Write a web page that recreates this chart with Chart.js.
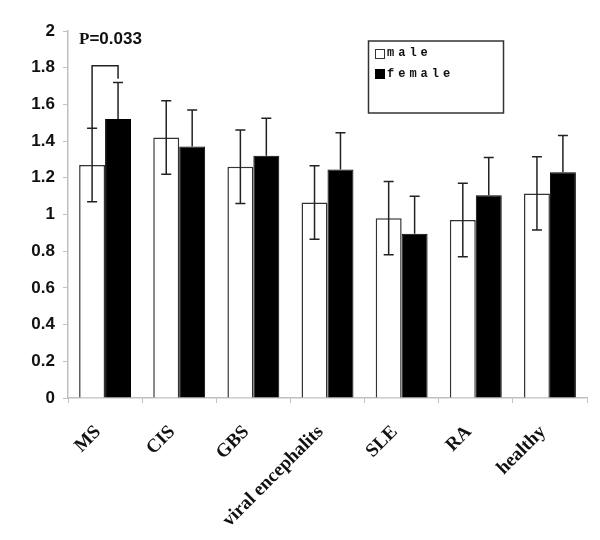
<!DOCTYPE html>
<html>
<head>
<meta charset="utf-8">
<script src="https://cdn.jsdelivr.net/npm/chart.js@4/dist/chart.umd.min.js"></script>
<style>
	html, body { margin: 0; padding: 0; background: #fff; }
	canvas { display: block; }
</style>
</head>
<body>
<canvas id="chart" width="600" height="540"></canvas>
<script>
const categories = ['MS', 'CIS', 'GBS', 'viral encephalits', 'SLE', 'RA', 'healthy'];
const maleValues = [1.27, 1.42, 1.26, 1.065, 0.98, 0.97, 1.115];
const femaleValues = [1.52, 1.37, 1.32, 1.245, 0.895, 1.105, 1.23];
const maleSD = [0.2, 0.2, 0.2, 0.2, 0.2, 0.2, 0.2];
const femaleSD = [0.2, 0.2, 0.205, 0.2, 0.205, 0.205, 0.2];
const yTicks = [0, 0.2, 0.4, 0.6, 0.8, 1, 1.2, 1.4, 1.6, 1.8, 2];
const pLabel = 'P=0.033';
const bracketTop = 1.81;
const bracketRightEnd = 1.74;

const axisGray = '#c0c0c0';

// error bars, significance bracket, legend box
const extras = {
	id: 'extras',
	afterDatasetsDraw(chart) {
		const ctx = chart.ctx;
		const y = chart.scales.y;
		const male = chart.getDatasetMeta(0).data;
		const female = chart.getDatasetMeta(1).data;
		const cap = 5;
		ctx.save();
		ctx.lineWidth = 1.5;
		ctx.strokeStyle = '#222';
		const drawErr = (bars, vals, sds, both) => {
			bars.forEach((b, i) => {
				const hi = y.getPixelForValue(vals[i] + sds[i]);
				const lo = y.getPixelForValue(both ? vals[i] - sds[i] : vals[i]);
				ctx.beginPath();
				ctx.moveTo(b.x, hi); ctx.lineTo(b.x, lo);
				ctx.moveTo(b.x - cap, hi); ctx.lineTo(b.x + cap, hi);
				if (both) { ctx.moveTo(b.x - cap, lo); ctx.lineTo(b.x + cap, lo); }
				ctx.stroke();
			});
		};
		drawErr(male, maleValues, maleSD, true);
		drawErr(female, femaleValues, femaleSD, false);

		// bracket MS male vs female
		const xl = male[0].x, xr = female[0].x;
		ctx.beginPath();
		ctx.moveTo(xl, y.getPixelForValue(maleValues[0] + maleSD[0]));
		ctx.lineTo(xl, y.getPixelForValue(bracketTop));
		ctx.lineTo(xr, y.getPixelForValue(bracketTop));
		ctx.lineTo(xr, y.getPixelForValue(bracketRightEnd));
		ctx.stroke();

		ctx.fillStyle = '#111';
		ctx.textBaseline = 'top';
		ctx.font = 'bold 17px "Liberation Serif"';
		ctx.fillText('P', 79, 31);
		const pw = ctx.measureText('P').width;
		ctx.font = 'bold 17px "Liberation Sans"';
		ctx.fillText(pLabel.slice(1), 79 + pw, 31);

		// legend
		ctx.lineWidth = 1.5;
		ctx.strokeStyle = '#333';
		ctx.strokeRect(368.5, 41, 135, 72);
		ctx.lineWidth = 1;
		ctx.strokeRect(375.5, 49.5, 9, 9);
		ctx.fillStyle = '#000';
		ctx.fillRect(375, 69, 10, 10);
		ctx.font = 'bold 12px "Liberation Mono"';
		ctx.letterSpacing = '4px';
		ctx.textBaseline = 'middle';
		ctx.fillStyle = '#111';
		ctx.fillText('male', 387, 53);
		ctx.fillText('female', 387, 74);
		ctx.restore();
	}
};

new Chart(document.getElementById('chart'), {
	type: 'bar',
	data: {
		labels: categories,
		datasets: [
			{ label: 'male', data: maleValues, backgroundColor: '#fff', borderColor: '#333', borderWidth: 1.5, categoryPercentage: 0.7, barPercentage: 1 },
			{ label: 'female', data: femaleValues, backgroundColor: '#000', borderColor: '#000', borderWidth: 1, categoryPercentage: 0.7, barPercentage: 1 }
		]
	},
	options: {
		responsive: false,
		animation: false,
		layout: { padding: { top: 31, right: 13, left: 0, bottom: 0 } },
		plugins: { legend: { display: false }, tooltip: { enabled: false } },
		scales: {
			y: {
				min: 0, max: 2,
				afterBuildTicks: s => { s.ticks = yTicks.map(v => ({ value: v })); },
				afterFit: s => { s.width = 68; },
				grid: { drawOnChartArea: false, drawTicks: true, tickLength: 5, color: axisGray },
				border: { color: axisGray, width: 1.5 },
				ticks: { color: '#111', font: { family: 'Liberation Sans', weight: 'bold', size: 17 }, padding: 8, callback: v => String(v) }
			},
			x: {
				afterFit: s => { s.height = 142; },
				grid: { drawOnChartArea: false, drawTicks: true, tickLength: 5, color: axisGray, offset: true },
				border: { color: axisGray, width: 1.5 },
				ticks: { color: '#111', maxRotation: 45, minRotation: 45, padding: 18, labelOffset: -7, font: { family: 'Liberation Serif', weight: 'bold', size: 19 } }
			}
		}
	},
	plugins: [extras]
});
</script>
</body>
</html>
